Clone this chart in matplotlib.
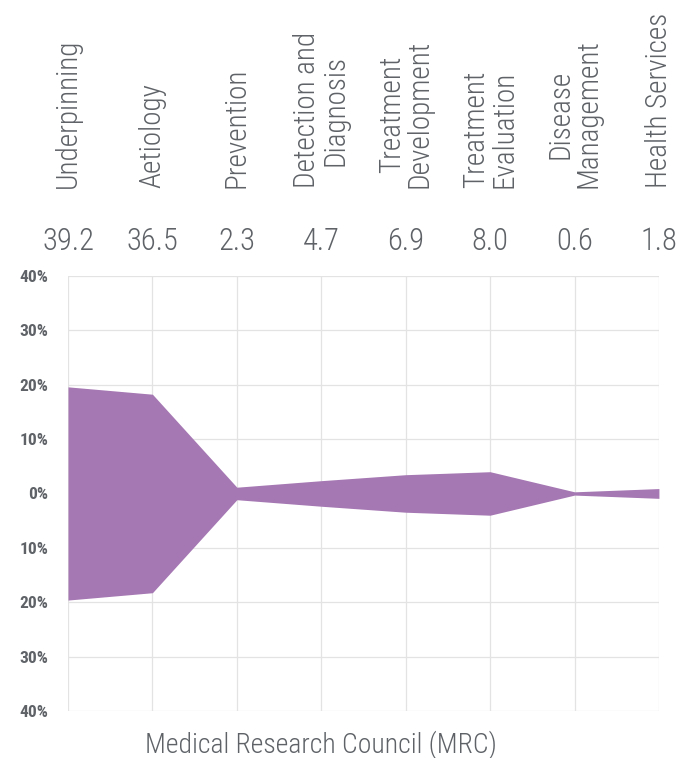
import matplotlib
matplotlib.use("Agg")
import matplotlib.pyplot as plt
import numpy as np

# ---------------------------------------------------------------------------
categories = ["Underpinning", "Aetiology", "Prevention", "Detection and\nDiagnosis",
              "Treatment\nDevelopment", "Treatment\nEvaluation", "Disease\nManagement",
              "Health Services"]
shares = [39.2, 36.5, 2.3, 4.7, 6.9, 8.0, 0.6, 1.8]  # % of MRC spend
y_ticks = [-40, -30, -20, -10, 0, 10, 20, 30, 40]
funder = "Medical Research Council (MRC)"

FILL = "#a577b3"
TEXT = "#5f6368"
GRID = "#e3e3e3"

plt.rcParams["font.family"] = ["Roboto Condensed", "Barlow Semi Condensed", "DejaVu Sans"]

fig = plt.figure(figsize=(6.8, 7.58), dpi=100)
ax = fig.add_axes([0.1, 0.062, 0.869, 0.574])

x = np.arange(len(categories))
half = np.array(shares) / 2.0
ax.fill_between(x, -half, half, color=FILL, lw=0, zorder=3)

ax.set_xlim(0, len(categories) - 1)
ax.set_ylim(-40, 40)
ax.set_xticks(x)
ax.set_xticklabels([])
ax.set_yticks(y_ticks)
ax.set_yticklabels([f"{abs(t)}%" for t in y_ticks], fontsize=12.5, fontweight="bold", color=TEXT)
ax.tick_params(length=0, pad=14)
ax.grid(True, color=GRID, lw=0.9, zorder=0)
for s in ax.spines.values():
    s.set_visible(False)

# category labels and values above the plot
for xi, lab, v in zip(x, categories, shares):
    ax.annotate(lab, xy=(xi, 1), xycoords=("data", "axes fraction"),
                xytext=(0, 63), textcoords="offset points",
                rotation=90, ha="center", va="bottom", fontsize=21, color=TEXT,
                fontweight="light", linespacing=1.0, annotation_clip=False)
    ax.annotate(f"{v:.1f}", xy=(xi, 1), xycoords=("data", "axes fraction"),
                xytext=(0, 24.5), textcoords="offset points",
                ha="center", va="center", fontsize=22, color=TEXT,
                fontweight="light", annotation_clip=False)

fig.text(321 / 680, 1 - 745 / 758, funder, ha="center", va="center", fontsize=20,
         fontweight="light", color=TEXT)

fig.savefig("out.png", dpi=100)
